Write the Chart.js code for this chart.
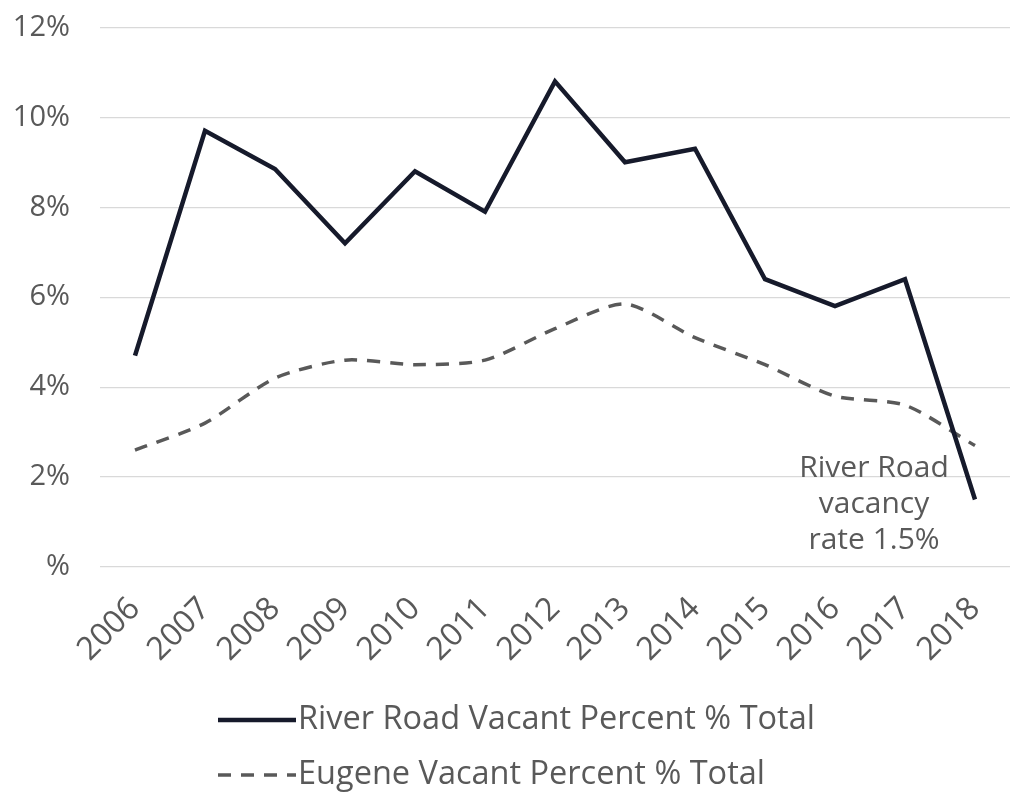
<!DOCTYPE html>
<html>
<head>
<meta charset="utf-8">
<script src="https://cdn.jsdelivr.net/npm/chart.js@4/dist/chart.umd.min.js"></script>
<style>
  html, body { margin: 0; padding: 0; background: #fff; }
  #wrap { width: 1019px; height: 800px; overflow: hidden; }
  #canvas { display: block; margin-top: -20px; }
</style>
</head>
<body>
<div id="wrap"><canvas id="canvas" width="1019" height="820"></canvas></div>
<script>
// values (percent)
const years = ['2006', '2007', '2008', '2009', '2010', '2011', '2012', '2013', '2014', '2015', '2016', '2017', '2018'];
const riverRoad = [4.7, 9.7, 8.85, 7.2, 8.8, 7.9, 10.8, 9.0, 9.3, 6.4, 5.8, 6.4, 1.5];
const eugene = [2.6, 3.2, 4.2, 4.6, 4.5, 4.6, 5.3, 5.85, 5.1, 4.5, 3.8, 3.6, 2.7];
const yTicks = [0, 2, 4, 6, 8, 10, 12];
const seriesNames = ['River Road Vacant Percent % Total', 'Eugene Vacant Percent % Total'];
const noteLines = ['River Road', 'vacancy', 'rate 1.5%'];

const FONT = '"Open Sans", Roboto, sans-serif';
const GREY = '#595959';

// legend drawn under the axis, both rows left aligned like the original
const bottomLegend = {
    id: 'bottomLegend',
    afterDraw(chart) {
        const ctx = chart.ctx;
        const rows = [740, 795];
        ctx.save();
        chart.data.datasets.forEach(function (ds, i) {
            let y = rows[i];
            ctx.strokeStyle = ds.borderColor;
            ctx.lineWidth = ds.borderWidth;
            ctx.setLineDash(ds.borderDash || []);
            ctx.lineCap = 'butt';
            ctx.beginPath();
            ctx.moveTo(218, y);
            ctx.lineTo(296, y);
            ctx.stroke();
            ctx.setLineDash([]);
            ctx.fillStyle = GREY;
            ctx.font = '32.5px ' + FONT;
            ctx.textAlign = 'left';
            ctx.textBaseline = 'middle';
            ctx.fillText(ds.label, 298, y);
        });
        ctx.restore();
    }
};

// note next to the last point
const rateNote = {
    id: 'rateNote',
    afterDatasetsDraw(chart) {
        const ctx = chart.ctx;
        const x = chart.scales.x.getPixelForValue(11) - 31;
        const y0 = chart.scales.y.getPixelForValue(2.2);
        ctx.save();
        ctx.fillStyle = GREY;
        ctx.font = '30px ' + FONT;
        ctx.textAlign = 'center';
        ctx.textBaseline = 'middle';
        noteLines.forEach(function (t, i) {
            ctx.fillText(t, x, y0 + i * 36);
        });
        ctx.restore();
    }
};

const ctx = document.getElementById('canvas').getContext('2d');
const chart = new Chart(ctx, {
    type: 'line',
    data: {
        labels: years,
        datasets: [{
            label: seriesNames[0],
            data: riverRoad,
            borderColor: '#161a2b',
            borderWidth: 4.5,
            pointRadius: 0,
            tension: 0,
            order: 1
        }, {
            label: seriesNames[1],
            data: eugene,
            borderColor: '#595959',
            borderWidth: 3.5,
            borderDash: [13, 10],
            pointRadius: 0,
            tension: 0.25,
            order: 2
        }]
    },
    options: {
        responsive: false,
        animation: false,
        layout: {
            padding: { top: 7, right: 9, bottom: 120, left: 0 }
        },
        plugins: {
            legend: { display: false },
            tooltip: { enabled: false }
        },
        scales: {
            x: {
                offset: true,
                grid: { display: false },
                border: { display: false },
                ticks: {
                    color: GREY,
                    font: { family: FONT, size: 32 },
                    maxRotation: 45,
                    minRotation: 45,
                    padding: 15
                },
                afterFit: function (scale) { scale.height = 113; }
            },
            y: {
                min: 0,
                max: 12,
                afterBuildTicks: function (scale) {
                    scale.ticks = yTicks.map(v => ({ value: v }));
                },
                grid: { color: '#d9d9d9', lineWidth: 1.2, drawTicks: false },
                border: { display: false },
                ticks: {
                    color: GREY,
                    font: { family: FONT, size: 29 },
                    padding: 30,
                    callback: function (v) { return v === 0 ? '%' : v + '%'; }
                },
                afterFit: function (scale) { scale.width = 100; }
            }
        }
    },
    plugins: [rateNote, bottomLegend]
});
</script>
</body>
</html>
